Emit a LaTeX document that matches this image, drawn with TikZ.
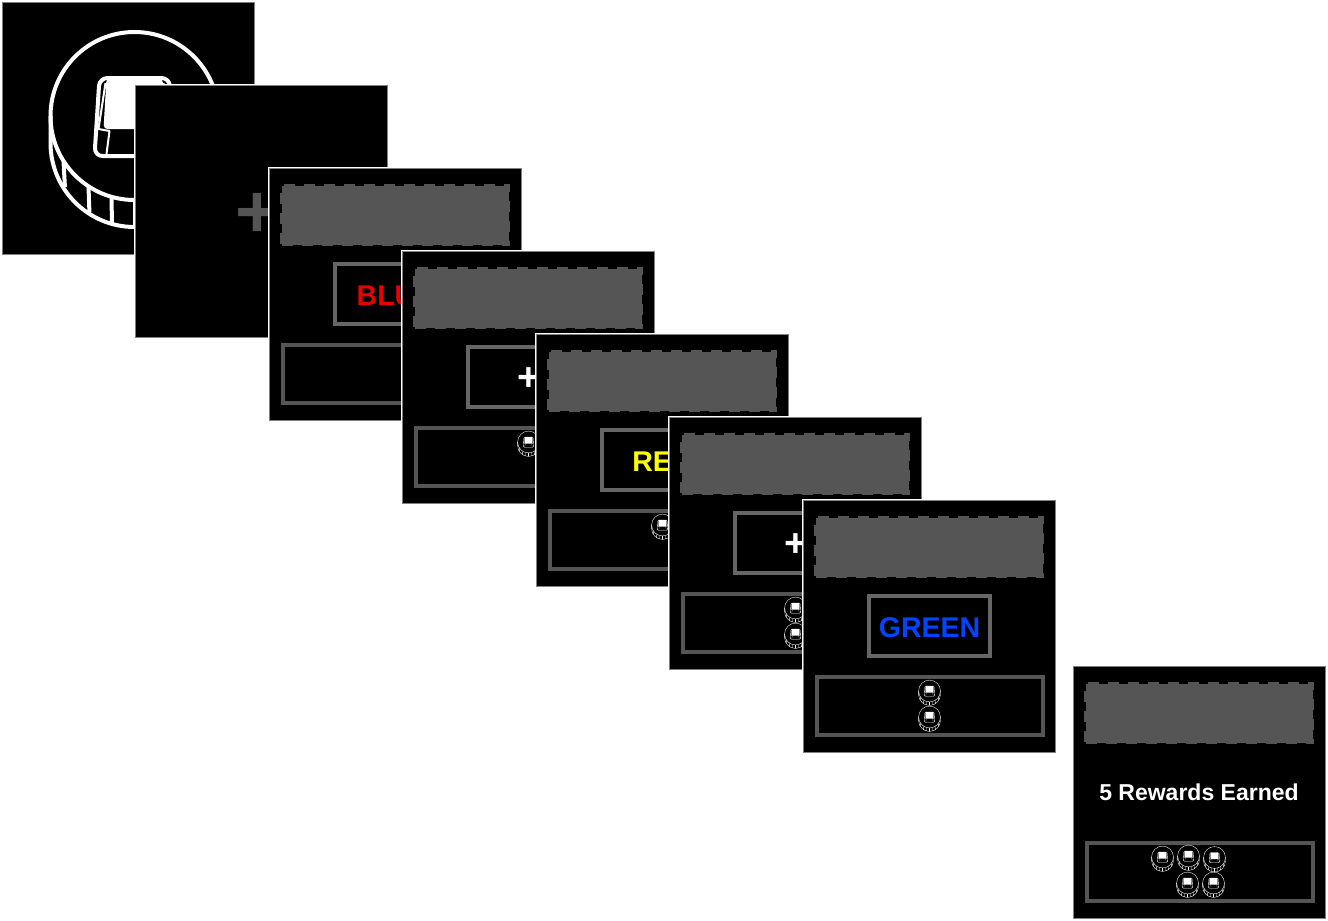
\documentclass[tikz,border=0pt]{standalone}
\usepackage{fontspec}
\setmainfont{Liberation Sans}

\def\coinw{4pt}
\def\coinr{1}
\definecolor{boxgray}{HTML}{555555}
\definecolor{framegray}{HTML}{666666}
\definecolor{wordred}{HTML}{E60000}
\definecolor{wordyellow}{HTML}{FFFF00}
\definecolor{wordblue}{HTML}{0044FF}

\tikzset{
  screen/.style = {draw=gray, line width=0.7pt, fill=black, minimum size=252.3pt,
    inner sep=0pt, outer sep=0pt, anchor=north west,
    preaction={draw=white, line width=3pt}},
  promptbox/.style = {draw=boxgray, fill=boxgray, line width=3pt, dash pattern=on 11pt off 9pt,
    minimum width=227pt, minimum height=59pt, inner sep=0pt, outer sep=0pt},
  wordbox/.style = {draw=framegray, line width=4pt, minimum width=121pt, minimum height=60pt,
    inner sep=0pt, outer sep=0pt},
  rewardbox/.style = {draw=boxgray, line width=4pt, minimum width=226pt, minimum height=58pt,
    inner sep=0pt, outer sep=0pt},
  coinline/.style = {draw=white, line width=\coinw, line join=round},
  coin/.pic = {
    \draw[coinline] (0,0) circle[radius=84];
    \draw[coinline] (-84,0) -- (-84,27) arc[start angle=180, end angle=0, radius=84] -- (84,0);
    \foreach \t in {-71,-46,-23,0,23,46,71}
      \draw[coinline] (\t,{sqrt(7056-\t*\t)}) -- (\t*0.98,{sqrt(7056-\t*\t)+26});
    % key on the coin
    \draw[coinline, rounded corners=\coinr*8pt] (-35,-38) -- (35,-38) -- (40,40) -- (-40,40) -- cycle;
    \fill[white, rounded corners=\coinr*4pt] (-28,-38) -- (28,-38) -- (31,13) -- (-31,13) -- cycle;
    \draw[coinline, line width=0.5*\coinw] (-29,-33) -- (-36,13) -- (-25,15) -- (-28,38);
    \draw[coinline, line width=0.5*\coinw] (29,-33) -- (36,13) -- (25,15) -- (28,38);
  }
}

\begin{document}
\begin{tikzpicture}[x=1pt, y=-1pt]
  \useasboundingbox (0,0) rectangle (1328,921);

  % opening screen
  \node[screen] (screenA) at (2,2) {};
  \pic[scale=1] at (134.5,116) {coin};

  % fixation
  \node[screen] (screenB) at (135,85) {};
  \node[text=boxgray, font=\fontsize{75}{75}\selectfont\bfseries] (plusB) at (257.5,216) {+};

  \def\coinw{0.35pt}
  \def\coinr{0.13}
  \foreach \n/\x/\y/\word/\col/\size/\dy/\coins in {
      C/269/168/BLUE/wordred/28.5/128/{},
      D/402/251/+/white/39/129/{126.5/191},
      E/536/334/RED/wordyellow/28.5/128/{126.5/191},
      F/669/417/+/white/39/129/{126.5/191,126.5/217},
      G/803/500/GREEN/wordblue/28.5/128/{126.5/191,126.5/217}}{
    \node[screen] (screen\n) at (\x,\y) {};
    \begin{scope}[shift={(\x,\y)}]
      \node[promptbox] (prompt\n) at (126,47) {};
      \node[wordbox] (frame\n) at (126,126) {};
      \node[text=\col, font=\fontsize{\size}{\size}\selectfont\bfseries] (word\n) at (126.5,128) {\word};
      \node[rewardbox] (reward\n) at (126.5,206) {};
      \foreach \a/\b in \coins
        \pic[scale=0.13] at (\a,\b) {coin};
    \end{scope}
  }

  % last screen
  \node[screen] (screenH) at (1073,666) {};
  \begin{scope}[shift={(1073,666)}]
    \node[promptbox] (promptH) at (126,47) {};
    \node[text=white, font=\fontsize{23}{23}\selectfont\bfseries] (wordH) at (126,126) {5 Rewards Earned};
    \node[rewardbox] (rewardH) at (126.5,206) {};
    \foreach \a/\b in {89.5/191,115.5/190,141.5/191.5,114.5/217,140.5/217}
      \pic[scale=0.13] at (\a,\b) {coin};
  \end{scope}
\end{tikzpicture}
\end{document}
